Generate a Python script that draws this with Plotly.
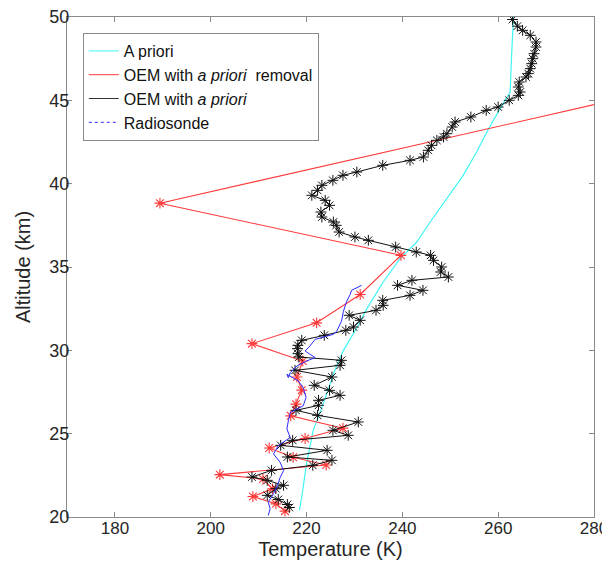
import plotly.graph_objects as go

# ---------------- data ----------------
apriori_T = [218.5, 219.0, 220.0, 221.4, 223.5, 225.9, 227.7, 230.5, 232.6, 236.0,
             239.5, 243.0, 245.8, 249.3, 252.7, 255.5, 258.0, 260.4, 262.5, 262.8, 263.2]
apriori_alt = [20.4, 21.2, 23.2, 25.2, 26.8, 28.8, 30.0, 31.35, 32.5, 34.1,
               35.5, 36.5, 37.7, 39.1, 40.5, 41.9, 43.3, 44.5, 45.5, 47.7, 50.0]

removal_T = [215.5, 213.6, 208.8, 212.9, 210.9, 201.9, 224.1, 217.2, 212.2, 219.7,
             227.6, 216.7, 217.8, 219.0, 218.0, 219.2, 208.6, 222.1, 231.2, 239.7,
             189.4, 307.0]
removal_alt = [20.35, 20.79, 21.23, 21.69, 22.28, 22.54, 23.12, 23.58, 24.14, 24.71,
               25.33, 26.07, 26.77, 27.61, 28.40, 29.36, 30.40, 31.65, 33.35, 35.70,
               38.83, 46.5]

oem_T = [216.4, 216.0, 214.1, 211.8, 213.6, 215.2, 211.8, 208.6, 212.7, 221.3,
         225.3, 216.0, 224.3, 214.6, 217.1, 228.7, 225.5, 230.8, 222.3, 217.8,
         222.5, 222.5, 227.0, 224.8, 221.6, 225.3, 217.6, 227.0, 227.3, 218.4,
         218.2, 218.1, 218.2, 219.0, 223.7, 228.2, 229.8, 231.2, 228.9, 234.5,
         236.0, 235.9, 241.6, 244.3, 239.0, 242.0, 249.6, 248.0, 248.2, 246.5,
         245.9, 242.9, 238.6, 232.9, 230.1, 226.8, 226.2, 225.6, 223.2, 223.0,
         224.8, 223.9, 221.1, 222.3, 223.2, 225.5, 227.6, 230.5, 235.9, 241.6,
         244.4, 245.4, 246.1, 247.2, 248.6, 249.3, 250.4, 251.0, 254.3, 257.5,
         260.0, 262.3, 264.2, 264.6, 264.2, 264.4, 265.8, 266.3, 266.7, 267.0,
         267.2, 267.5, 267.9, 267.9, 266.7, 265.1, 264.0, 263.0]
oem_alt = [20.57, 20.75, 21.05, 21.3, 21.7, 21.9, 22.2, 22.4, 22.8, 23.1,
           23.4, 23.6, 24.0, 24.3, 24.6, 24.9, 25.2, 25.7, 26.1, 26.4,
           26.7, 27.0, 27.3, 27.6, 27.9, 28.4, 28.8, 29.1, 29.4, 29.6,
           29.8, 30.1, 30.3, 30.6, 30.9, 31.2, 31.4, 31.8, 32.1, 32.4,
           32.7, 33.0, 33.3, 33.6, 33.9, 34.2, 34.4, 34.7, 35.0, 35.4,
           35.7, 35.9, 36.2, 36.6, 36.8, 37.1, 37.5, 37.7, 38.0, 38.3,
           38.7, 39.0, 39.3, 39.6, 39.9, 40.2, 40.5, 40.7, 41.1, 41.4,
           41.6, 42.0, 42.3, 42.6, 42.8, 43.0, 43.4, 43.7, 44.0, 44.4,
           44.6, 45.0, 45.3, 45.5, 45.8, 46.1, 46.4, 46.6, 46.9, 47.2,
           47.5, 47.8, 48.2, 48.5, 48.9, 49.2, 49.45, 49.85]

sonde_T = [212.0, 212.4, 212.0, 213.1, 213.9, 214.5, 215.2, 214.5, 213.1, 214.1,
           216.6, 215.9, 216.2, 216.6, 219.3, 219.9, 219.3, 218.3, 215.9, 216.2,
           216.6, 218.0, 220.0, 221.8, 219.7, 220.7, 221.8, 225.6, 226.3, 227.3,
           227.7, 228.4, 229.1, 229.4, 231.5]
sonde_alt = [20.09, 20.49, 20.89, 21.39, 21.88, 22.38, 22.78, 23.28, 23.78, 24.28,
             24.77, 25.28, 25.77, 26.27, 26.67, 27.17, 27.76, 28.16, 28.56, 28.36,
             28.66, 29.06, 29.36, 29.56, 29.96, 30.26, 30.66, 30.96, 31.15, 31.75,
             32.35, 32.95, 33.35, 33.6, 33.9]

x_ticks = [180, 200, 220, 240, 260, 280]
y_ticks = [20, 25, 30, 35, 40, 45, 50]

CYAN = "#3ff5f5"
RED = "#ff3a3a"
BLACK = "#111111"
BLUE = "#2a2aff"
FONT = "Liberation Sans, Arial, Helvetica, sans-serif"

fig = go.Figure()

# data traces (legend shown by line-only proxies, as in the reference)
fig.add_trace(go.Scatter(x=apriori_T, y=apriori_alt, mode="lines",
                         line=dict(color=CYAN, width=1.2), name="A priori",
                         showlegend=False))
fig.add_trace(go.Scatter(x=removal_T, y=removal_alt, mode="lines+markers",
                         line=dict(color=RED, width=1.1),
                         marker=dict(symbol="asterisk-open", size=9,
                                     line=dict(color=RED, width=1.1)),
                         name="OEM with a priori removal", showlegend=False))
fig.add_trace(go.Scatter(x=oem_T, y=oem_alt, mode="lines+markers",
                         line=dict(color=BLACK, width=1),
                         marker=dict(symbol="asterisk-open", size=9,
                                     line=dict(color=BLACK, width=1)),
                         name="OEM with a priori", showlegend=False))
fig.add_trace(go.Scatter(x=sonde_T, y=sonde_alt, mode="lines",
                         line=dict(color=BLUE, width=1), name="Radiosonde",
                         showlegend=False))

legend_names = ["A priori", "OEM with <i>a priori</i>  removal",
                "OEM with <i>a priori</i>", "Radiosonde"]
legend_colors = [CYAN, RED, "#333333", BLUE]
legend_dash = ["solid", "solid", "solid", "dot"]
for nm, col, dsh in zip(legend_names, legend_colors, legend_dash):
    fig.add_trace(go.Scatter(x=[None], y=[None], mode="lines",
                             line=dict(color=col, width=1, dash=dsh), name=nm))

axis_common = dict(showgrid=False, zeroline=False, showline=True, mirror="ticks",
                   linecolor="#8a8a8a", linewidth=1, ticks="inside", ticklen=5,
                   tickcolor="#8a8a8a", automargin=False, ticklabeloverflow="allow")

fig.update_xaxes(range=[170, 280], tickvals=x_ticks, ticklabelstandoff=-4,
                 tickfont=dict(size=17, color="#262626", family=FONT),
                 title=dict(text="Temperature (K)", standoff=2,
                            font=dict(size=20, color="#262626", family=FONT)),
                 **axis_common)
fig.update_yaxes(range=[20, 50], tickvals=y_ticks, ticklabelstandoff=-7,
                 tickfont=dict(size=18, color="#262626", family=FONT),
                 title=dict(text="Altitude (km)", standoff=13,
                            font=dict(size=20, color="#262626", family=FONT)),
                 **axis_common)

# the page body adds an 8 px offset, so the figure is 8 px smaller than the window
fig.update_layout(
    width=602, height=562,
    margin=dict(l=59, r=16, t=9, b=53),
    paper_bgcolor="white", plot_bgcolor="white",
    font=dict(family=FONT, color="#111111"),
    showlegend=True,
    legend=dict(x=0.03, y=0.968, xanchor="left", yanchor="top",
                bgcolor="white", bordercolor="#8a8a8a", borderwidth=1,
                font=dict(size=16, family=FONT, color="#111111"),
                tracegroupgap=0, itemwidth=30),
)

fig.write_html("out.html")
